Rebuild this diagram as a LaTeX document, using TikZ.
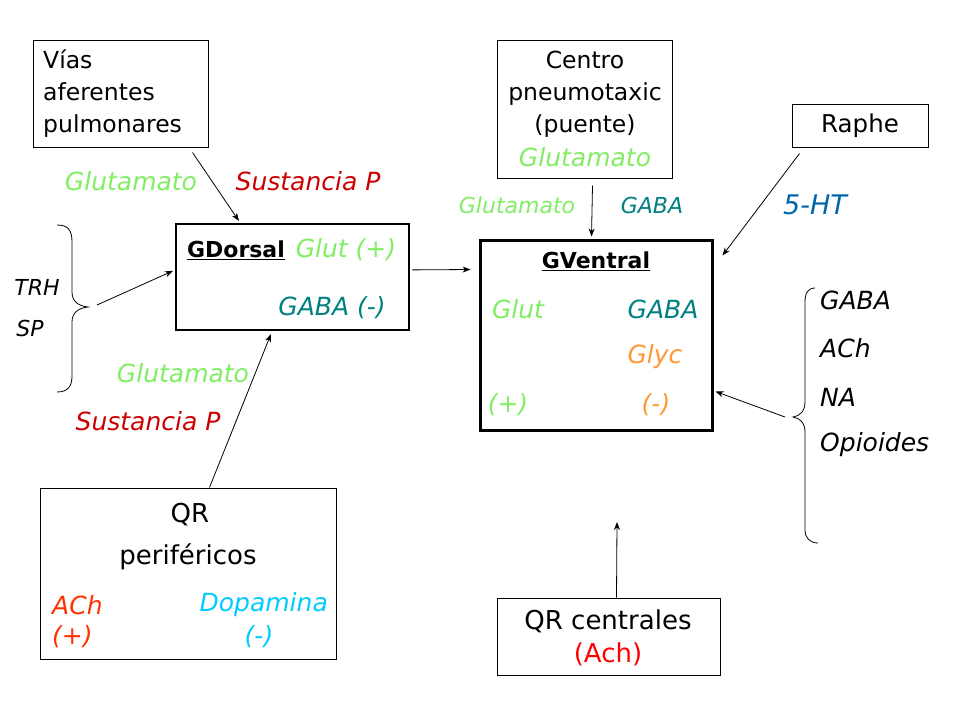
\documentclass[tikz,border=0pt]{standalone}
\usepackage{fontspec}
\setmainfont{DejaVu Sans}[ItalicFont={DejaVu Sans Oblique},BoldFont={DejaVu Sans Bold},BoldItalicFont={DejaVu Sans Bold Oblique}]
\usetikzlibrary{arrows.meta,calc}
\definecolor{lgreen}{RGB}{130,238,100}
\definecolor{dred}{RGB}{204,0,0}
\definecolor{tealc}{RGB}{0,128,128}
\definecolor{orangec}{RGB}{255,153,51}
\definecolor{achc}{RGB}{255,51,0}
\definecolor{dopac}{RGB}{0,204,255}
\definecolor{htc}{RGB}{0,102,170}
\definecolor{redc}{RGB}{255,0,0}
\tikzset{
  box/.style={draw, line width=1pt, inner sep=0pt},
  txt/.style={inner sep=0pt, font=\fontsize{23.5}{32}\selectfont},
  btxt/.style={inner sep=0pt, font=\fontsize{26}{34}\selectfont},
  itl/.style={inner sep=0pt, font=\fontsize{25}{32}\selectfont\itshape},
  sitl/.style={inner sep=0pt, font=\fontsize{22}{28}\selectfont\itshape},
  titl/.style={inner sep=0pt, font=\fontsize{22}{28}\selectfont\itshape},
  arr/.style={-{Stealth[length=8pt,width=6pt]}, line width=0.8pt},
  brace/.style={line width=0.8pt}
}
\begin{document}
\begin{tikzpicture}[x=1pt,y=-1pt]
\fill[white] (0,0) rectangle (960,720);
\useasboundingbox (0,0) rectangle (960,720);

% boxes
\node[box, minimum width=175pt, minimum height=107pt] (vias) at (120.5,93.5) {};
\node[txt, anchor=west, align=left] (viast) at (43,94) {Vías\\aferentes\\pulmonares};

\node[box, line width=2.2pt, minimum width=233pt, minimum height=106pt] (gd) at (292.5,277) {};
\node[txt, font=\fontsize{22}{32}\selectfont\bfseries] (gdt) at (236,250) {\underline{GDorsal}};
\node[itl, text=lgreen] (gdglut) at (346,250) {Glut (+)};
\node[itl, text=tealc] (gdgaba) at (332,308) {GABA (-)};

\node[box, minimum width=296pt, minimum height=171pt] (qrp) at (188,573.5) {};
\node[btxt] (qrpa) at (190,515) {QR};
\node[btxt] (qrpb) at (188,557) {periféricos};
\node[itl, text=achc, anchor=west] (qrpach) at (52,605) {ACh};
\node[itl, text=achc, anchor=west] (qrpachs) at (52,637) {(+)};
\node[itl, text=dopac, anchor=east] (qrpdop) at (328,605) {Dopamina};
\node[itl, text=dopac] (qrpdops) at (259,637) {(-)};

\node[box, minimum width=175pt, minimum height=138pt] (cp) at (584.5,109) {};
\node[txt, align=center] (cpt) at (585,94) {Centro\\pneumotaxic\\(puente)};
\node[itl, text=lgreen] (cpg) at (585,157) {Glutamato};

\node[box, minimum width=136pt, minimum height=43pt] (raphe) at (860,125.5) {};
\node[txt, font=\fontsize{24.5}{32}\selectfont] (rapht) at (860,126) {Raphe};

\node[box, line width=3pt, minimum width=232pt, minimum height=190pt] (gv) at (596,335) {};
\node[txt, font=\fontsize{22}{32}\selectfont\bfseries] (gvt) at (596,261) {\underline{GVentral}};
\node[itl, text=lgreen] (gvglut) at (518,309) {Glut};
\node[itl, text=tealc] (gvgaba) at (663,309) {GABA};
\node[itl, text=orangec] (gvglyc) at (655,357) {Glyc};
\node[itl, text=lgreen] (gvplus) at (508,405) {(+)};
\node[itl, text=orangec] (gvminus) at (656,405) {(-)};

\node[box, minimum width=223pt, minimum height=77pt] (qrc) at (608.5,636.5) {};
\node[btxt] (qrct) at (608,621) {QR centrales};
\node[btxt, text=redc] (qrcach) at (608,654) {(Ach)};

% free labels
\node[itl, text=lgreen] (l1) at (131,181) {Glutamato};
\node[itl, text=dred] (l2) at (308,181) {Sustancia P};
\node[titl] (trh) at (37,287) {TRH};
\node[titl] (sp) at (30,328) {SP};
\node[itl, text=lgreen] (l3) at (183,373) {Glutamato};
\node[itl, text=dred] (l4) at (148,421) {Sustancia P};
\node[sitl, text=lgreen] (l5) at (517,205) {Glutamato};
\node[sitl, text=tealc] (l6) at (652,205) {GABA};
\node[itl, text=htc, font=\fontsize{27}{32}\selectfont\itshape] (l7) at (815,205) {5-HT};
\node[itl, anchor=west] (r1) at (820,300) {GABA};
\node[itl, anchor=west] (r2) at (820,348) {ACh};
\node[itl, anchor=west] (r3) at (820,397) {NA};
\node[itl, anchor=west] (r4) at (820,445) {Opioides};

% braces
\draw[brace] (57,225) .. controls (68,225) and (72,230) .. (72,242) -- (72,292)
  .. controls (72,301) and (78,306) .. (88,307)
  .. controls (78,308) and (72,313) .. (72,322) -- (72,376)
  .. controls (72,386) and (68,392) .. (57,392);
\draw[brace] (815,288) .. controls (808,288) and (805,293) .. (805,302) -- (805,402)
  .. controls (805,411) and (800,416) .. (793,417)
  .. controls (800,418) and (805,423) .. (805,432) -- (805,530)
  .. controls (805,538) and (810,543) .. (818,543);
\coordinate (lb) at (97,305);
\coordinate (rb) at (785,417);
\coordinate (qrcend) at (617,522);

% connectors
\draw[arr] ($(vias.south west)+(160,5)$) -- ($(gd.north west)+(64,-2)$);
\draw[arr] (lb) -- ($(gd.north west)+(-2,48)$);
\draw[arr] ($(qrp.north west)+(170,0)$) -- ($(gd.south west)+(96,3)$);
\draw[arr] ($(gd.north east)+(2,47)$) -- ($(gv.north west)+(-8,31)$);
\draw[arr] ($(cp.south west)+(96,7)$) -- ($(gv.north west)+(113,-2)$);
\draw[arr] ($(raphe.south west)+(8,6)$) -- ($(gv.north east)+(9,17)$);
\draw[arr] (rb) -- ($(gv.north east)+(2,153)$);
\draw[arr] ($(qrc.north west)+(120,0)$) -- (qrcend);
\end{tikzpicture}
\end{document}
